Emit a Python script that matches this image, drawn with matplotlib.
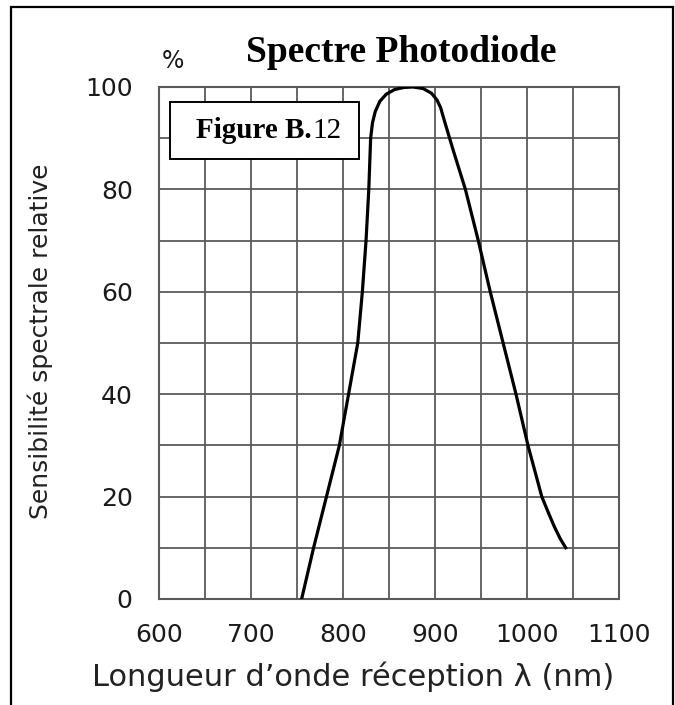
import matplotlib
matplotlib.use("Agg")
import matplotlib.pyplot as plt
from matplotlib.patches import Rectangle

# spectral response (nm, %)
wavelength = [755, 768, 782, 796, 806, 816, 821, 825, 828, 830, 832, 835, 840,
              847, 856, 866, 876, 887, 896, 902, 906, 910, 920, 933, 947, 960,
              974, 988, 1001, 1016, 1024, 1030, 1036, 1042]
sensitivity = [0, 10, 20, 30, 40, 50, 60, 70, 80, 90, 93, 95.2, 97.2,
               98.6, 99.5, 99.9, 100, 99.7, 98.8, 97.5, 96, 93.5, 87.5, 80, 70, 60,
               50, 40, 30, 20, 16.5, 14, 11.8, 10]

x_ticks = [600, 700, 800, 900, 1000, 1100]
x_minor = [650, 750, 850, 950, 1050]
y_ticks = [0, 20, 40, 60, 80, 100]
y_minor = [10, 30, 50, 70, 90]

fig = plt.figure(figsize=(6.75, 7.05), dpi=100)
ax = fig.add_axes([0.2356, 0.1504, 0.6815, 0.7262])

grid_col = "#5a5a5a"
ax.plot(wavelength, sensitivity, color="black", lw=2.3, zorder=4,
        solid_joinstyle="round")
ax.set_xlim(600, 1100)
ax.set_ylim(0, 100)
ax.set_xticks(x_ticks)
ax.set_xticks(x_minor, minor=True)
ax.set_yticks(y_ticks)
ax.set_yticks(y_minor, minor=True)
ax.grid(True, which="both", color=grid_col, lw=1.3)
ax.tick_params(which="both", length=0)
ax.tick_params(axis="x", pad=17, labelsize=18, colors="#1a1a1a")
ax.tick_params(axis="y", pad=19, labelsize=18, colors="#1a1a1a")
for s in ax.spines.values():
    s.set_color(grid_col)
    s.set_linewidth(1.5)

# figure label box
ax.add_patch(Rectangle((0.0239, 0.859), 0.411, 0.111, transform=ax.transAxes,
                       facecolor="white", edgecolor="black", lw=1.4,
                       zorder=5))
ax.text(0.3326, 0.900, "Figure B.", transform=ax.transAxes, ha="right",
        va="baseline", family="Liberation Serif", weight="bold", fontsize=21,
        zorder=6)
ax.text(0.3326, 0.900, "12", transform=ax.transAxes, ha="left",
        va="baseline", family="Liberation Serif", fontsize=21, zorder=6)

fig.text(0.594, 0.912, "Spectre Photodiode", ha="center", va="baseline",
         family="Liberation Serif", weight="bold", fontsize=27)
fig.text(0.256, 0.9135, "%", ha="center", va="center", fontsize=17,
         color="#1a1a1a")
fig.text(0.523, 0.0397, "Longueur d\u2019onde r\u00e9ception \u03bb (nm)",
         ha="center", va="center", fontsize=22, color="#222222")
fig.text(0.06, 0.516, "Sensibilit\u00e9 spectrale relative", ha="center",
         va="center", rotation=90, fontsize=18, color="#222222")

# outer frame, open at the bottom edge
fig.patches.append(Rectangle((11 / 675, -0.05), 662 / 675, 1.05 - 7 / 705,
                             transform=fig.transFigure, fill=False,
                             edgecolor="black", lw=1.6, clip_on=False))

fig.savefig("out.png", dpi=100)
